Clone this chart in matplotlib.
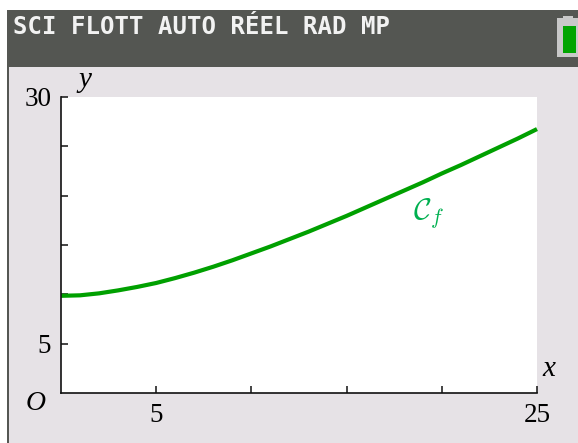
import matplotlib
matplotlib.use("Agg")
import matplotlib.pyplot as plt
from matplotlib.patches import Rectangle

# Data
x_vals = [0, 1, 2, 3, 4, 5, 6, 7, 8, 9, 10, 11, 12, 13, 14, 15, 16, 17, 18, 19, 20, 21, 22, 23, 24, 25]
y_vals = [9.85, 9.9, 10.1, 10.4, 10.75, 11.15, 11.65, 12.2, 12.8, 13.45, 14.15, 14.85, 15.6, 16.35, 17.15, 17.95, 18.8, 19.65, 20.5, 21.35, 22.25, 23.1, 24.0, 24.9, 25.8, 26.75]
x_ticks = [5, 10, 15, 20, 25]
x_ticklabels = ["5", "", "", "", "25"]
y_ticks = [5, 10, 15, 20, 25, 30]
y_ticklabels = ["5", "", "", "", "", "30"]
header_text = "SCI FLOTT AUTO RÉEL RAD MP"
curve_label = r"$\mathcal{C}_f$"

W, H = 578, 443
plt.rcParams['mathtext.fontset'] = 'cm'
fig = plt.figure(figsize=(W / 100, H / 100), dpi=100, facecolor="#e6e2e6")

def fx(px):
    return px / W

def fy(py):
    return 1 - py / H

# white top strip and left margin
fig.patches.append(Rectangle((0, fy(10)), 1, 10 / H, transform=fig.transFigure,
                             facecolor="white", edgecolor="none", zorder=0))
fig.patches.append(Rectangle((0, 0), fx(7), 1, transform=fig.transFigure,
                             facecolor="white", edgecolor="none", zorder=0))
fig.patches.append(Rectangle((fx(7), 0), 2.2 / W, fy(10), transform=fig.transFigure,
                             facecolor="#555753", edgecolor="none", zorder=1))
# header band
fig.patches.append(Rectangle((fx(9), fy(67)), 1, (67 - 10) / H, transform=fig.transFigure,
                             facecolor="#545652", edgecolor="none", zorder=1))
fig.text(fx(13), fy(27), header_text, color="#f2f2f2", fontsize=17.3,
         family="DejaVu Sans Mono", weight="bold", va="center", ha="left")
# battery icon
fig.patches.append(Rectangle((fx(557), fy(57)), 25 / W, 39 / H, transform=fig.transFigure,
                             facecolor="#c8c8c8", edgecolor="none", zorder=2))
fig.patches.append(Rectangle((fx(563), fy(20)), 10 / W, 4 / H, transform=fig.transFigure,
                             facecolor="#c8c8c8", edgecolor="none", zorder=2))
fig.patches.append(Rectangle((fx(563), fy(53)), 13 / W, 27 / H, transform=fig.transFigure,
                             facecolor="#00a400", edgecolor="none", zorder=3))

# plot area
ax = fig.add_axes([fx(61), fy(393), (537 - 61) / W, (393 - 97) / H])
ax.set_facecolor("white")
ax.plot(x_vals, y_vals, color="#00a000", lw=3.0, solid_capstyle="butt", clip_on=False)
ax.set_xlim(0, 25)
ax.set_ylim(0, 30)
for s in ["top", "right"]:
    ax.spines[s].set_visible(False)
for s in ["left", "bottom"]:
    ax.spines[s].set_linewidth(1.2)
    ax.spines[s].set_color("#111111")
ax.set_xticks(x_ticks)
ax.set_xticklabels(x_ticklabels)
ax.set_yticks(y_ticks)
ax.set_yticklabels(y_ticklabels)
ax.tick_params(direction="in", length=5, width=1.1, color="#111111",
               labelsize=19.5, pad=7)
ax.tick_params(axis="x", pad=7)
for lab in ax.get_xticklabels() + ax.get_yticklabels():
    lab.set_family("Liberation Serif")

ax.text(19.3, 18.2, curve_label, color="#00b050", fontsize=22, ha="center", va="center")
fig.text(fx(36), fy(404), "O", family="Liberation Serif", style="italic", fontsize=20,
         ha="center", va="center")
fig.text(fx(85), fy(80), "y", family="Liberation Serif", style="italic", fontsize=21,
         ha="center", va="center")
fig.text(fx(549), fy(369), "x", family="Liberation Serif", style="italic", fontsize=21,
         ha="center", va="center")

fig.savefig("out.png", dpi=100, facecolor=fig.get_facecolor())
